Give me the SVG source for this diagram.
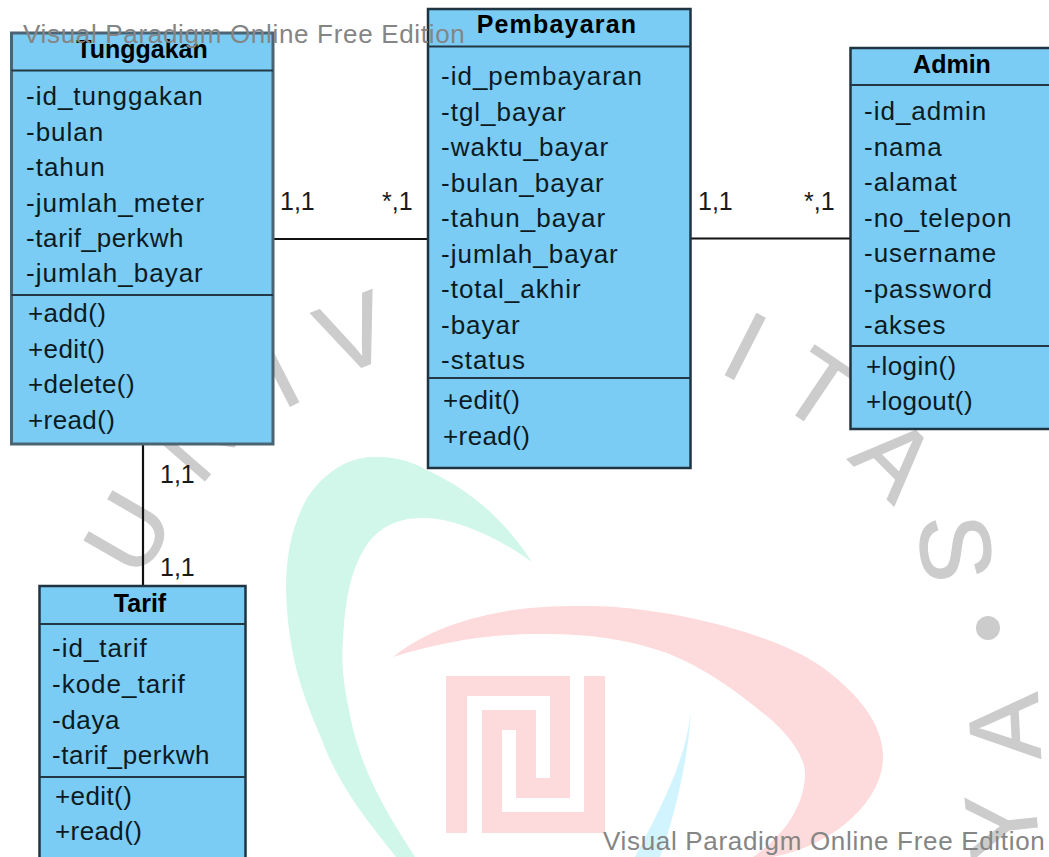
<svg xmlns="http://www.w3.org/2000/svg" width="1049" height="857" viewBox="0 0 1049 857">
<style>
text{font-family:"Liberation Sans",Arial,sans-serif;}
.box{fill:#7accf4;stroke:#1f3340;stroke-width:2.5;}
.soft{stroke:#4a6473;stroke-width:3;}
.div{stroke:#223845;stroke-width:2.2;fill:none;}
.t{font-size:25px;font-weight:bold;text-anchor:middle;fill:#000;}
.a{font-size:26px;letter-spacing:1px;fill:#0d1a22;}
.n{letter-spacing:.6px;}
.m{font-size:26px;letter-spacing:.4px;fill:#0d1a22;}
.l{font-size:25px;fill:#1a1a1a;}
.c{stroke:#111;stroke-width:2.2;fill:none;}
.g{font-size:100px;text-anchor:middle;fill:#cccccc;stroke:#cccccc;stroke-width:1.2;}
.w{font-size:26px;letter-spacing:.68px;fill:#858585;}
</style>
<rect width="1049" height="857" fill="#ffffff"/>
<g id="backdrop">
<path fill="#d1f6ea" d="M532,562 C505,520 470,490 427,470 C405,458 390,457 373,457 C345,457 320,477 306,500 C290,530 286,560 286,590 C288,660 305,700 322,740 C340,790 375,830 396,857 L415,857 C385,810 360,770 349,710 C343,680 341,660 343,640 C345,590 355,557 373,537 C388,522 405,518 423,518 C450,517 495,535 532,562 Z"/>
<path fill="#fddadb" d="M393,657 C420,635 455,622 487,615 C525,606 560,606 590,606 C655,606 770,630 822,667 C860,695 883,725 883,757 C883,800 835,845 773,857 L753,857 C785,835 805,805 805,773 C805,755 785,730 763,713 C735,690 700,665 664,652 C625,638 580,633 536,634 C490,634 440,642 393,657 Z"/>
<path fill="#fddadb" d="M446,676 H570 V798 H516 V730 H502 V812 H584 V676 H605 V833 H482 V710 H536 V778 H550 V696 H467 V833 H446 Z"/>
<path fill="#d2f4fe" d="M691,712 C688,760 675,815 660,857 L635,857 C665,800 685,760 691,712 Z"/>
<text class="g" transform="translate(127,532) rotate(-60)" y="36">U</text>
<text class="g" transform="translate(196,436) rotate(-49)" y="36">N</text>
<text class="g" transform="translate(278,372) rotate(-27)" y="36">I</text>
<text class="g" transform="translate(353,332) rotate(-21)" y="36">V</text>
<text class="g" transform="translate(746,345) rotate(27)" y="36">I</text>
<text class="g" transform="translate(820,388) rotate(34)" y="36">T</text>
<text class="g" transform="translate(896,457) rotate(45)" y="36">A</text>
<text class="g" transform="translate(957,548) rotate(85)" y="36">S</text>
<circle cx="988" cy="628" r="12" fill="#cccccc"/>
<text class="g" transform="translate(1003,727) rotate(-93)" y="36">A</text>
<text class="g" transform="translate(1001,826) rotate(-96)" y="36">Y</text>
</g>
<g id="connectors">
<path class="c" d="M273,239 H428"/>
<path class="c" d="M691,238.5 H850"/>
<path class="c" d="M143,444 V586"/>
</g>
<g id="Tunggakan">
<rect class="box soft" x="11.5" y="33" width="261.5" height="411"/>
<path class="div" d="M11.5,70.5 H273 M11.5,295 H273"/>
<text class="t" x="142" y="58">Tunggakan</text>
<text class="a" x="26" y="105">-id_tunggakan</text>
<text class="a" x="26" y="140.5">-bulan</text>
<text class="a" x="26" y="176">-tahun</text>
<text class="a" x="26" y="211.5">-jumlah_meter</text>
<text class="a n" x="26" y="247">-tarif_perkwh</text>
<text class="a" x="26" y="282">-jumlah_bayar</text>
<text class="m" x="28" y="322">+add()</text>
<text class="m" x="28" y="358">+edit()</text>
<text class="m" x="28" y="393">+delete()</text>
<text class="m" x="28" y="429">+read()</text>
</g>
<g id="Pembayaran">
<rect class="box" x="428" y="9" width="262.5" height="459"/>
<path class="div" d="M428,46.5 H690.5 M428,378 H690.5"/>
<text class="t" x="557" y="33" style="letter-spacing:1.2px">Pembayaran</text>
<text class="a" x="441" y="85">-id_pembayaran</text>
<text class="a" x="441" y="120.5">-tgl_bayar</text>
<text class="a" x="441" y="156">-waktu_bayar</text>
<text class="a" x="441" y="191.5">-bulan_bayar</text>
<text class="a" x="441" y="227">-tahun_bayar</text>
<text class="a" x="441" y="263">-jumlah_bayar</text>
<text class="a" x="441" y="298">-total_akhir</text>
<text class="a" x="441" y="334">-bayar</text>
<text class="a" x="441" y="369">-status</text>
<text class="m" x="443" y="409">+edit()</text>
<text class="m" x="443" y="445">+read()</text>
</g>
<g id="Admin">
<rect class="box" x="850.5" y="48" width="210" height="381"/>
<path class="div" d="M850.5,85 H1060 M850.5,346 H1060"/>
<text class="t" x="952" y="73">Admin</text>
<text class="a" x="864" y="120">-id_admin</text>
<text class="a" x="864" y="156">-nama</text>
<text class="a" x="864" y="191">-alamat</text>
<text class="a" x="864" y="227">-no_telepon</text>
<text class="a" x="864" y="262">-username</text>
<text class="a" x="864" y="298">-password</text>
<text class="a" x="864" y="334">-akses</text>
<text class="m" x="866" y="375">+login()</text>
<text class="m" x="866" y="410">+logout()</text>
</g>
<g id="Tarif">
<rect class="box" x="39.5" y="586" width="206" height="290"/>
<path class="div" d="M39.5,624 H245.5 M39.5,777 H245.5"/>
<text class="t" x="140" y="612">Tarif</text>
<text class="a" x="52" y="657">-id_tarif</text>
<text class="a" x="52" y="693">-kode_tarif</text>
<text class="a n" x="52" y="729">-daya</text>
<text class="a n" x="52" y="764">-tarif_perkwh</text>
<text class="m" x="55" y="805">+edit()</text>
<text class="m" x="55" y="840">+read()</text>
</g>
<g id="labels">
<text class="l" x="280" y="210">1,1</text>
<text class="l" x="382" y="210">*,1</text>
<text class="l" x="698" y="210">1,1</text>
<text class="l" x="804" y="210">*,1</text>
<text class="l" x="160" y="483">1,1</text>
<text class="l" x="160" y="576">1,1</text>
</g>
<g id="watermarks">
<text class="w" x="23" y="43">Visual Paradigm Online Free Edition</text>
<text class="w" x="603" y="850">Visual Paradigm Online Free Edition</text>
</g>
</svg>
